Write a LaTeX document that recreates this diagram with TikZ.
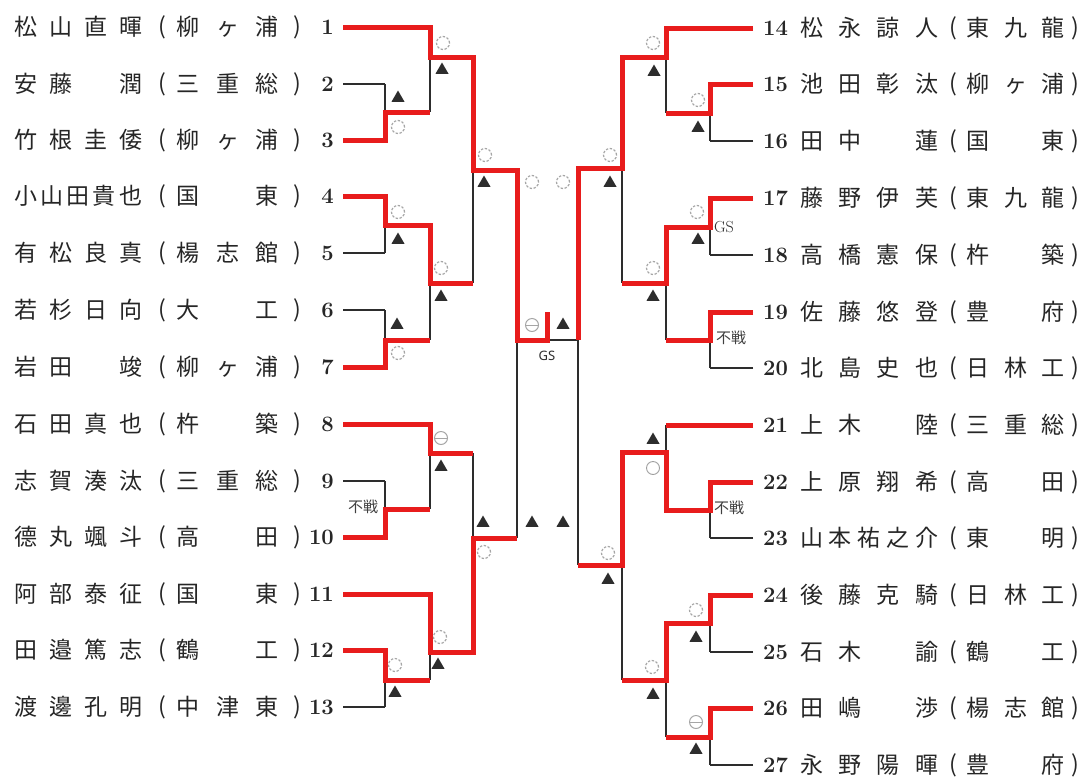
\documentclass[tikz,border=0pt]{standalone}
\usepackage{fontspec}
\newfontfamily\cjk{Noto Sans CJK JP}
\newfontfamily\gsf{Noto Sans}
\usetikzlibrary{shapes.geometric}
\definecolor{bred}{RGB}{232,28,28}
\definecolor{bk}{RGB}{45,45,45}
\newcommand{\B}{\phantom{国}}
\newcommand{\LRow}[4]{%
  \node[txt,anchor=west] (ln#1) at (14,#2) {\makebox[128pt][s]{#3}};
  \node[txt] (lpa#1) at (162,#2) {(};
  \node[txt,anchor=west] (ls#1) at (176.5,#2) {\makebox[102pt][s]{#4}};
  \node[txt] (lpb#1) at (297,#2) {)};
  \node[num,anchor=east] (lnum#1) at (334,#2) {#1};
}
\newcommand{\RRow}[4]{%
  \node[num,anchor=west] (rnum#1) at (763,#2) {#1};
  \node[txt,anchor=west] (rn#1) at (800,#2) {\makebox[138pt][s]{#3}};
  \node[txt] (rpa#1) at (953,#2) {(};
  \node[txt,anchor=west] (rs#1) at (966.5,#2) {\makebox[98pt][s]{#4}};
  \node[txt] (rpb#1) at (1075,#2) {)};
}
\begin{document}
\begin{tikzpicture}[x=1pt,y=-1pt,
  txt/.style={inner sep=0, font=\cjk\fontsize{23}{23}\selectfont, text=black!85},
  num/.style={inner sep=0, font=\fontsize{22}{22}\selectfont\bfseries, text=black!85},
  thin/.style={draw=bk, line width=1.6pt},
  win/.style={draw=bred, line width=5pt, line join=miter},
  dc/.style={circle, draw=gray!70, dash pattern=on 2.4pt off 1.6pt, line width=1.2pt, minimum size=13pt, inner sep=0},
  oc/.style={circle, draw=gray!75, line width=0.9pt, minimum size=13pt, inner sep=0},
  th/.style={circle, draw=gray!70, line width=1pt, minimum size=13pt, inner sep=0,
     path picture={\draw[gray!70, line width=1pt] (path picture bounding box.west) -- (path picture bounding box.east);}},
  tri/.style={regular polygon, regular polygon sides=3, fill=bk, minimum size=15pt, inner sep=0},
  fusen/.style={inner sep=0, font=\cjk\fontsize{15}{15}\selectfont, text=black!75},
]
\path[use as bounding box, fill=white] (0,0) rectangle (1083,777);

% ---------- names left ----------
\LRow{1}{27}{松\hfill 山\hfill 直\hfill 暉}{柳\hfill ヶ\hfill 浦}
\LRow{2}{84}{安\hfill 藤\hfill\B\hfill 潤}{三\hfill 重\hfill 総}
\LRow{3}{140}{竹\hfill 根\hfill 圭\hfill 倭}{柳\hfill ヶ\hfill 浦}
\LRow{4}{196}{小\hfill 山\hfill 田\hfill 貴\hfill 也}{国\hfill 東}
\LRow{5}{253}{有\hfill 松\hfill 良\hfill 真}{楊\hfill 志\hfill 館}
\LRow{6}{310}{若\hfill 杉\hfill 日\hfill 向}{大\hfill 工}
\LRow{7}{367}{岩\hfill 田\hfill\B\hfill 竣}{柳\hfill ヶ\hfill 浦}
\LRow{8}{424}{石\hfill 田\hfill 真\hfill 也}{杵\hfill 築}
\LRow{9}{481}{志\hfill 賀\hfill 湊\hfill 汰}{三\hfill 重\hfill 総}
\LRow{10}{537}{德\hfill 丸\hfill 颯\hfill 斗}{高\hfill 田}
\LRow{11}{594}{阿\hfill 部\hfill 泰\hfill 征}{国\hfill 東}
\LRow{12}{650}{田\hfill 邉\hfill 篤\hfill 志}{鶴\hfill 工}
\LRow{13}{707}{渡\hfill 邊\hfill 孔\hfill 明}{中\hfill 津\hfill 東}

% ---------- names right ----------
\RRow{14}{28}{松\hfill 永\hfill 諒\hfill 人}{東\hfill 九\hfill 龍}
\RRow{15}{84}{池\hfill 田\hfill 彰\hfill 汰}{柳\hfill ヶ\hfill 浦}
\RRow{16}{141}{田\hfill 中\hfill\B\hfill 蓮}{国\hfill 東}
\RRow{17}{198}{藤\hfill 野\hfill 伊\hfill 芙}{東\hfill 九\hfill 龍}
\RRow{18}{255}{高\hfill 橋\hfill 憲\hfill 保}{杵\hfill 築}
\RRow{19}{312}{佐\hfill 藤\hfill 悠\hfill 登}{豊\hfill 府}
\RRow{20}{368}{北\hfill 島\hfill 史\hfill 也}{日\hfill 林\hfill 工}
\RRow{21}{425}{上\hfill 木\hfill\B\hfill 陸}{三\hfill 重\hfill 総}
\RRow{22}{482}{上\hfill 原\hfill 翔\hfill 希}{高\hfill 田}
\RRow{23}{538}{山\hfill 本\hfill 祐\hfill 之\hfill 介}{東\hfill 明}
\RRow{24}{595}{後\hfill 藤\hfill 克\hfill 騎}{日\hfill 林\hfill 工}
\RRow{25}{652}{石\hfill 木\hfill\B\hfill 諭}{鶴\hfill 工}
\RRow{26}{708}{田\hfill 嶋\hfill\B\hfill 渉}{楊\hfill 志\hfill 館}
\RRow{27}{765}{永\hfill 野\hfill 陽\hfill 暉}{豊\hfill 府}

% ---------- bracket: thin lines ----------
\foreach \y/\x in {27/430,84/385,140/385,196/385,253/385,310/385,367/385,424/430,481/385,537/385,594/430,650/385,707/385}
  \draw[thin] (343,\y) -- (\x,\y);
\foreach \x/\a/\b/\j/\n in {385/84/140/112/430, 385/196/253/225/430, 385/310/367/340/430, 385/481/537/509/430, 385/650/707/680/430,
                            430/27/112/57/473, 430/225/340/283/473, 430/424/509/453/473, 430/594/680/652/473,
                            473/57/283/170/517, 473/453/652/538/517}
  \draw[thin] (\x,\a) -- (\x,\b) (\x,\j) -- (\n,\j);
\draw[thin] (517,170) -- (517,538) (517,340) -- (578,340);

\foreach \y/\x in {28/666,84/710,141/710,198/710,255/710,312/710,368/710,425/666,482/710,538/710,595/710,652/710,708/710,765/710}
  \draw[thin] (753,\y) -- (\x,\y);
\foreach \x/\a/\b/\j/\n in {710/84/141/113/666, 710/198/255/227/666, 710/312/368/340/666, 710/482/538/510/666, 710/595/652/623/666, 710/708/765/737/666,
                            666/28/113/57/622, 666/227/340/283/622, 666/425/510/452/622, 666/623/737/680/622,
                            622/57/283/168/578, 622/452/680/565/578}
  \draw[thin] (\x,\a) -- (\x,\b) (\x,\j) -- (\n,\j);
\draw[thin] (578,168) -- (578,565);

% ---------- bracket: winners ----------
\draw[win] (343,27) -- (430,27) -- (430,57) -- (473,57) -- (473,170) -- (517,170) -- (517,340) -- (547,340) -- (547,312);
\draw[win] (343,140) -- (385,140) -- (385,112) -- (430,112);
\draw[win] (343,196) -- (385,196) -- (385,225) -- (430,225) -- (430,283) -- (473,283);
\draw[win] (343,367) -- (385,367) -- (385,340) -- (430,340);
\draw[win] (343,424) -- (430,424) -- (430,453) -- (473,453);
\draw[win] (343,537) -- (385,537) -- (385,509) -- (430,509);
\draw[win] (343,594) -- (430,594) -- (430,652) -- (473,652) -- (473,538) -- (517,538);
\draw[win] (343,650) -- (385,650) -- (385,680) -- (430,680);

\draw[win] (753,28) -- (666,28) -- (666,57) -- (622,57) -- (622,168) -- (578,168) -- (578,340);
\draw[win] (753,84) -- (710,84) -- (710,113) -- (666,113);
\draw[win] (753,198) -- (710,198) -- (710,227) -- (666,227) -- (666,283) -- (622,283);
\draw[win] (753,312) -- (710,312) -- (710,340) -- (666,340);
\draw[win] (753,425) -- (666,425);
\draw[win] (753,482) -- (710,482) -- (710,510) -- (666,510) -- (666,452) -- (622,452) -- (622,565) -- (578,565);
\draw[win] (753,595) -- (710,595) -- (710,623) -- (666,623) -- (666,680) -- (622,680);
\draw[win] (753,708) -- (710,708) -- (710,737) -- (666,737);

% ---------- marks ----------
\foreach \x/\y [count=\i] in {443/43, 398/127, 485/155, 398/212, 441/268, 398/353, 484/552, 440/637, 395/665, 532/182, 563/182,
                              653/43, 698/100, 610/155, 697/212, 653/268, 608/553, 652/667, 696/610}
  \node[dc] (dc\i) at (\x,\y) {};
\foreach \x/\y [count=\i] in {442/70, 398/98, 484/183, 398/240, 441/297, 397/325, 441/467, 483/523, 438/665, 395/693, 532/523, 563/523, 563/325,
                              654/72, 698/128, 610/183, 698/240, 653/297, 653/440, 608/580, 653/695, 696/638, 696/750}
  \node[tri] (tr\i) at (\x,\y) {};
\node[th] (th1) at (441,438) {};
\node[th] (th2) at (532,325) {};
\node[th] (th3) at (696,722) {};
\node[oc] (oc1) at (653,468) {};

\node[fusen] (fs1) at (363,507) {不戦};
\node[fusen] (fs2) at (731,338) {不戦};
\node[fusen] (fs3) at (729,508) {不戦};
\node[inner sep=0, font=\gsf\fontsize{13}{13}\selectfont\bfseries, text=bk] (gs1) at (547,356) {GS};
\node[inner sep=0, font=\fontsize{16}{16}\selectfont, text=bk] (gs2) at (724,227) {GS};
\end{tikzpicture}
\end{document}
